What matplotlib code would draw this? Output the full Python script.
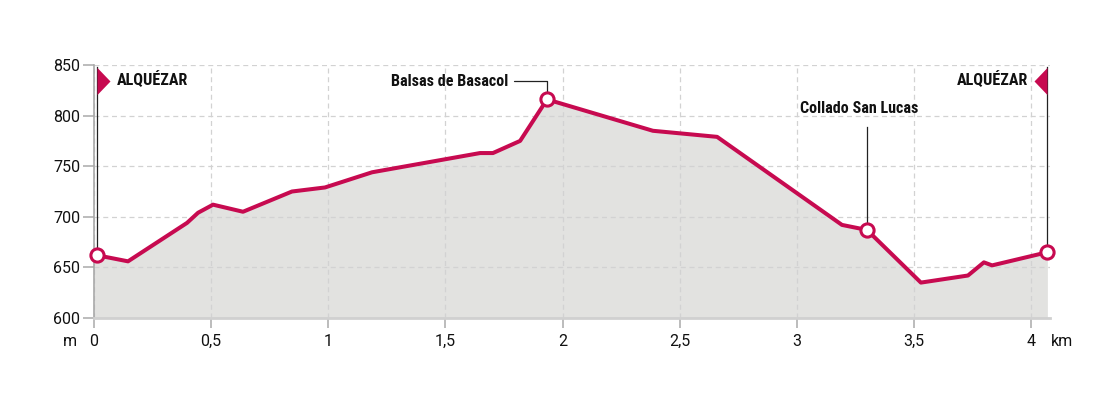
import matplotlib
matplotlib.use('Agg')
import matplotlib.pyplot as plt
import matplotlib.font_manager as fm
import numpy as np

# ── Profile data (km, m) ─────────────────────────────────────────────────────
dist_km = [0.013, 0.145, 0.397, 0.444, 0.508, 0.636, 0.845, 0.986, 1.187,
           1.648, 1.703, 1.819, 1.934, 2.386, 2.660, 3.193, 3.300, 3.530,
           3.731, 3.799, 3.834, 4.070]
elev_m = [662, 656, 694, 704, 712, 705, 725, 729, 744,
          763, 763, 775, 816, 785, 779, 692, 687, 635,
          642, 655, 652, 665]

x_ticks = [0, 0.5, 1, 1.5, 2, 2.5, 3, 3.5, 4]
x_tick_labels = ['0', '0,5', '1', '1,5', '2', '2,5', '3', '3,5', '4']
y_ticks = [600, 650, 700, 750, 800, 850]

# labelled waypoints: index into the profile
start_idx, peak_idx, col_idx, end_idx = 0, 12, 16, 21
start_name = 'ALQUÉZAR'
peak_name = 'Balsas de Basacol'
col_name = 'Collado San Lucas'

RED = '#c70a50'
FILL = '#e2e2e0'
GRID = '#d2d2d2'
INK = '#111111'


def _condensed_bold():
    """Pick a narrow bold face if one is installed, else Roboto bold."""
    cond = ('condensed', 'semi-condensed', 'extra-condensed', 'ultra-condensed')
    best = None
    for f in fm.fontManager.ttflist:
        narrow = (str(f.stretch) in cond or 'Narrow' in f.name
                  or 'Condensed' in f.name or 'Narrow' in f.fname
                  or 'Condensed' in f.fname)
        w = f.weight if isinstance(f.weight, int) else (700 if 'bold' in str(f.weight) else 400)
        if narrow and w >= 600 and f.style == 'normal':
            rank = 0 if 'Liberation' in f.name else (1 if 'Roboto' in f.name else 2)
            if best is None or rank < best[0]:
                best = (rank, f.fname)
    if best:
        return fm.FontProperties(fname=best[1])
    return fm.FontProperties(family='Roboto', weight='bold')


plt.rcParams['font.family'] = ['Roboto', 'DejaVu Sans']

fig = plt.figure(figsize=(11, 3.93), dpi=100)
ax = fig.add_axes([0.0855, 0.1908, 0.869, 0.6438])

# size the label font so 'Balsas de Basacol' is ~118 px wide, close to the source
label_fp = _condensed_bold()
probe = fig.text(0, 0, peak_name, fontproperties=label_fp, fontsize=12)
w = probe.get_window_extent(fig.canvas.get_renderer()).width
probe.remove()
label_fp.set_size(min(13.5, 12 * 118 / w))

x = np.array(dist_km)
y = np.array(elev_m)

ax.fill_between(np.r_[0, x], np.r_[y[0], y], 600, color=FILL, lw=0, zorder=0.3)
ax.plot(x, y, color=RED, lw=2.9, solid_joinstyle='round', zorder=3)

# poles + flags at start / end
for i, side in ((start_idx, 1), (end_idx, -1)):
    ax.plot([x[i], x[i]], [y[i], 848], color='#222222', lw=0.9, zorder=2)
    flag = [(0, 1), (0, -1), (0.96 * side, 0)]
    ax.plot(x[i], 834.5, marker=flag, ms=19.5, color=RED, mew=0,
            clip_on=False, zorder=4)

ax.annotate(start_name, (x[start_idx], 835.5), xytext=(14, 0),
            textcoords='offset points', ha='left', va='center',
            fontproperties=label_fp, color=INK)
ax.annotate(start_name, (x[end_idx], 835.5), xytext=(-14, 0),
            textcoords='offset points', ha='right', va='center',
            fontproperties=label_fp, color=INK)

# peak label with elbow leader
ax.annotate(peak_name, (x[peak_idx], y[peak_idx]), xytext=(-28, 13),
            textcoords='offset points', ha='right', va='center',
            fontproperties=label_fp, color=INK,
            arrowprops=dict(arrowstyle='-', color='#222222', lw=0.9,
                            shrinkA=2, shrinkB=0,
                            connectionstyle='angle,angleA=0,angleB=90,rad=0'),
            zorder=2)

# col label with vertical leader
ax.plot([x[col_idx], x[col_idx]], [y[col_idx], 788.7], color='#222222',
        lw=0.9, zorder=2)
ax.text(x[col_idx] - 0.032, 807.5, col_name, ha='center', va='center',
        fontproperties=label_fp, color=INK)

# waypoint markers
for i in (start_idx, peak_idx, col_idx, end_idx):
    ax.plot(x[i], y[i], 'o', ms=9.5, mfc='white', mec=RED, mew=2.2,
            clip_on=False, zorder=5)

ax.set_xlim(0, 4.081)
ax.set_ylim(600, 850)
ax.set_xticks(x_ticks)
ax.set_xticklabels(x_tick_labels)
ax.set_yticks(y_ticks)

ax.grid(True, color=GRID, lw=0.9, linestyle=(0, (4, 3)))
ax.set_axisbelow(True)

for s in ('top', 'right'):
    ax.spines[s].set_visible(False)
ax.spines['left'].set_color('#a8a8a8')
ax.spines['left'].set_linewidth(1.2)
ax.spines['bottom'].set_color('#d0d0d0')
ax.spines['bottom'].set_linewidth(2)

ax.tick_params(axis='y', length=8, width=1.2, color='#b0b0b0', pad=2,
               labelsize=11.5, labelcolor=INK)
ax.tick_params(axis='x', length=7, width=1.2, color='#b0b0b0', pad=4.5,
               labelsize=11.5, labelcolor=INK)

fig.text(70 / 1100, 1 - 342 / 393, 'm', ha='center', va='center',
         fontsize=11.5, color=INK)
fig.text(1062 / 1100, 1 - 342 / 393, 'km', ha='center', va='center',
         fontsize=11.5, color=INK)

fig.savefig('out.png', dpi=100)
plt.close(fig)
